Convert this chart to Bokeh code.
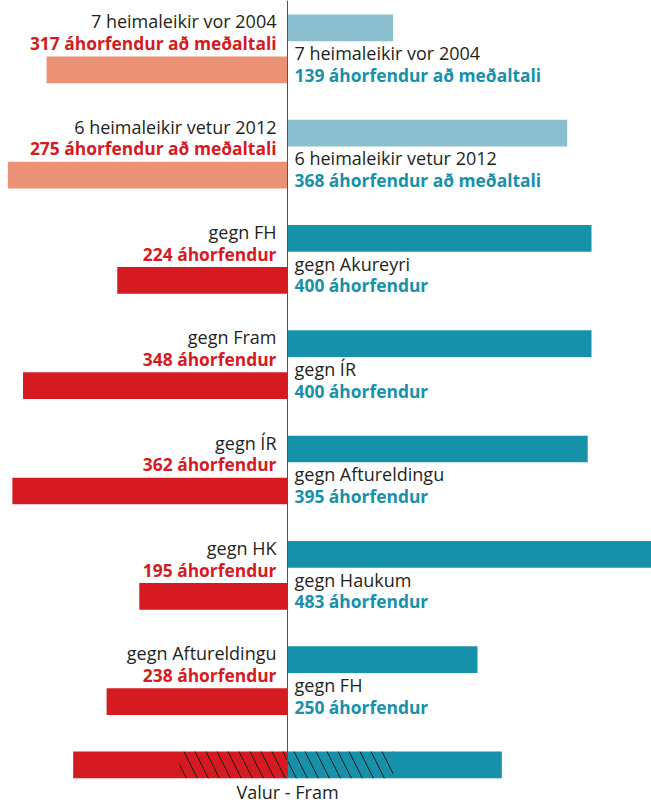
from bokeh.plotting import figure
from bokeh.models import Range1d, ColumnDataSource
from bokeh.core.properties import value
from bokeh.embed import file_html
from bokeh.resources import INLINE

# ---- data ----
left_names = ["7 heimaleikir vor 2004", "6 heimaleikir vetur 2012", "gegn FH", "gegn Fram",
              "gegn ÍR", "gegn HK", "gegn Aftureldingu"]
left_counts = [317, 275, 224, 348, 362, 195, 238]
left_suffix = ["áhorfendur að meðaltali", "áhorfendur að meðaltali", "áhorfendur", "áhorfendur",
               "áhorfendur", "áhorfendur", "áhorfendur"]
left_bar_lengths = [317, 368, 224, 348, 362, 195, 238]   # as drawn in the picture

right_names = ["7 heimaleikir vor 2004", "6 heimaleikir vetur 2012", "gegn Akureyri", "gegn ÍR",
               "gegn Aftureldingu", "gegn Haukum", "gegn FH"]
right_counts = [139, 368, 400, 400, 395, 483, 250]
right_suffix = ["áhorfendur að meðaltali", "áhorfendur að meðaltali", "áhorfendur", "áhorfendur",
                "áhorfendur", "áhorfendur", "áhorfendur"]

left_colors = ["#EA9176", "#EA9176", "#D51A21", "#D51A21", "#D51A21", "#D51A21", "#D51A21"]
right_colors = ["#8BBFCF", "#8BBFCF", "#1791AA", "#1791AA", "#1791AA", "#1791AA", "#1791AA"]

bottom_name = "Valur - Fram"
bottom_left = 282
bottom_right = 282
bottom_left_hatch = 142
bottom_right_hatch = 139
bottom_count_label = "282 áhorfendur"

# ---- layout constants ----
W, H = 651, 808
PX_PER_UNIT = 0.76
CENTER_PX = 287
ROW_PX = 105.3
TOP_CENTER_PX = 27.3
BAR_H = 26.7 / ROW_PX
LEFT_OFF = 42 / ROW_PX
TXT_SHIFT = -7.5  # px correction for text baseline

n = len(left_names)
rows = list(range(n))
bottom_row = n


def off(px):
    return (px + TXT_SHIFT) / ROW_PX


p = figure(width=W, height=H, output_backend="svg", toolbar_location=None,
           x_axis_location=None, y_axis_location=None, min_border=0,
           x_range=Range1d(-CENTER_PX / PX_PER_UNIT, (W - CENTER_PX) / PX_PER_UNIT),
           y_range=Range1d((H - TOP_CENTER_PX) / ROW_PX, -TOP_CENTER_PX / ROW_PX))
p.grid.visible = False
p.outline_line_color = None
p.background_fill_color = "white"
p.border_fill_color = "white"

# right bars (upper in each row)
rsrc = ColumnDataSource(dict(y=rows, right=right_counts, color=right_colors))
p.hbar(y="y", left=0, right="right", height=BAR_H, fill_color="color", line_color=None, source=rsrc)

# left bars (lower in each row)
lsrc = ColumnDataSource(dict(y=[r + LEFT_OFF for r in rows],
                             left=[-v for v in left_bar_lengths], color=left_colors))
p.hbar(y="y", left="left", right=0, height=BAR_H, fill_color="color", line_color=None, source=lsrc)

# bottom bar
p.hbar(y=[bottom_row], left=[-bottom_left], right=[0], height=BAR_H, fill_color="#D51A21", line_color=None)
p.hbar(y=[bottom_row], left=[0], right=[bottom_right], height=BAR_H, fill_color="#1791AA", line_color=None)
p.hbar(y=[bottom_row], left=[-bottom_left_hatch], right=[bottom_right_hatch], height=BAR_H,
       fill_alpha=0, line_color=None, hatch_pattern="\\", hatch_color="#1a1a1a",
       hatch_scale=22, hatch_weight=1)

# center line
p.segment(x0=[0], x1=[0], y0=[-TOP_CENTER_PX / ROW_PX], y1=[bottom_row + BAR_H / 2],
          line_color="#555555", line_width=1)

font = value("Open Sans")
fs = "18px"
fsb = "17.4px"

# left labels
p.text(x=[0] * n, y=[r + off(1.0) for r in rows], text=left_names, x_offset=-11,
       text_align="right", text_baseline="alphabetic", text_font=font, text_font_size=fs,
       text_color="#231f20")
p.text(x=[0] * n, y=[r + off(22.7) for r in rows],
       text=[f"{c} {s}" for c, s in zip(left_counts, left_suffix)], x_offset=-11,
       text_align="right", text_baseline="alphabetic", text_font=font, text_font_size=fsb,
       text_font_style="bold", text_color="#D51A21")

# right labels
p.text(x=[0] * n, y=[r + off(32.7) for r in rows], text=right_names, x_offset=7,
       text_align="left", text_baseline="alphabetic", text_font=font, text_font_size=fs,
       text_color="#231f20")
p.text(x=[0] * n, y=[r + off(54.4) for r in rows],
       text=[f"{c} {s}" for c, s in zip(right_counts, right_suffix)], x_offset=7,
       text_align="left", text_baseline="alphabetic", text_font=font, text_font_size=fsb,
       text_font_style="bold", text_color="#1791AA")

# bottom labels
p.text(x=[0], y=[bottom_row + off(34.7)], text=[bottom_name], text_align="center",
       text_baseline="alphabetic", text_font=font, text_font_size=fs, text_color="#231f20")
p.text(x=[0], y=[bottom_row + off(58.5)], text=[bottom_count_label], text_align="center",
       text_baseline="alphabetic", text_font=font, text_font_size=fsb, text_font_style="bold",
       text_color="#333333")

open("out.html", "w").write(file_html(p, INLINE))
